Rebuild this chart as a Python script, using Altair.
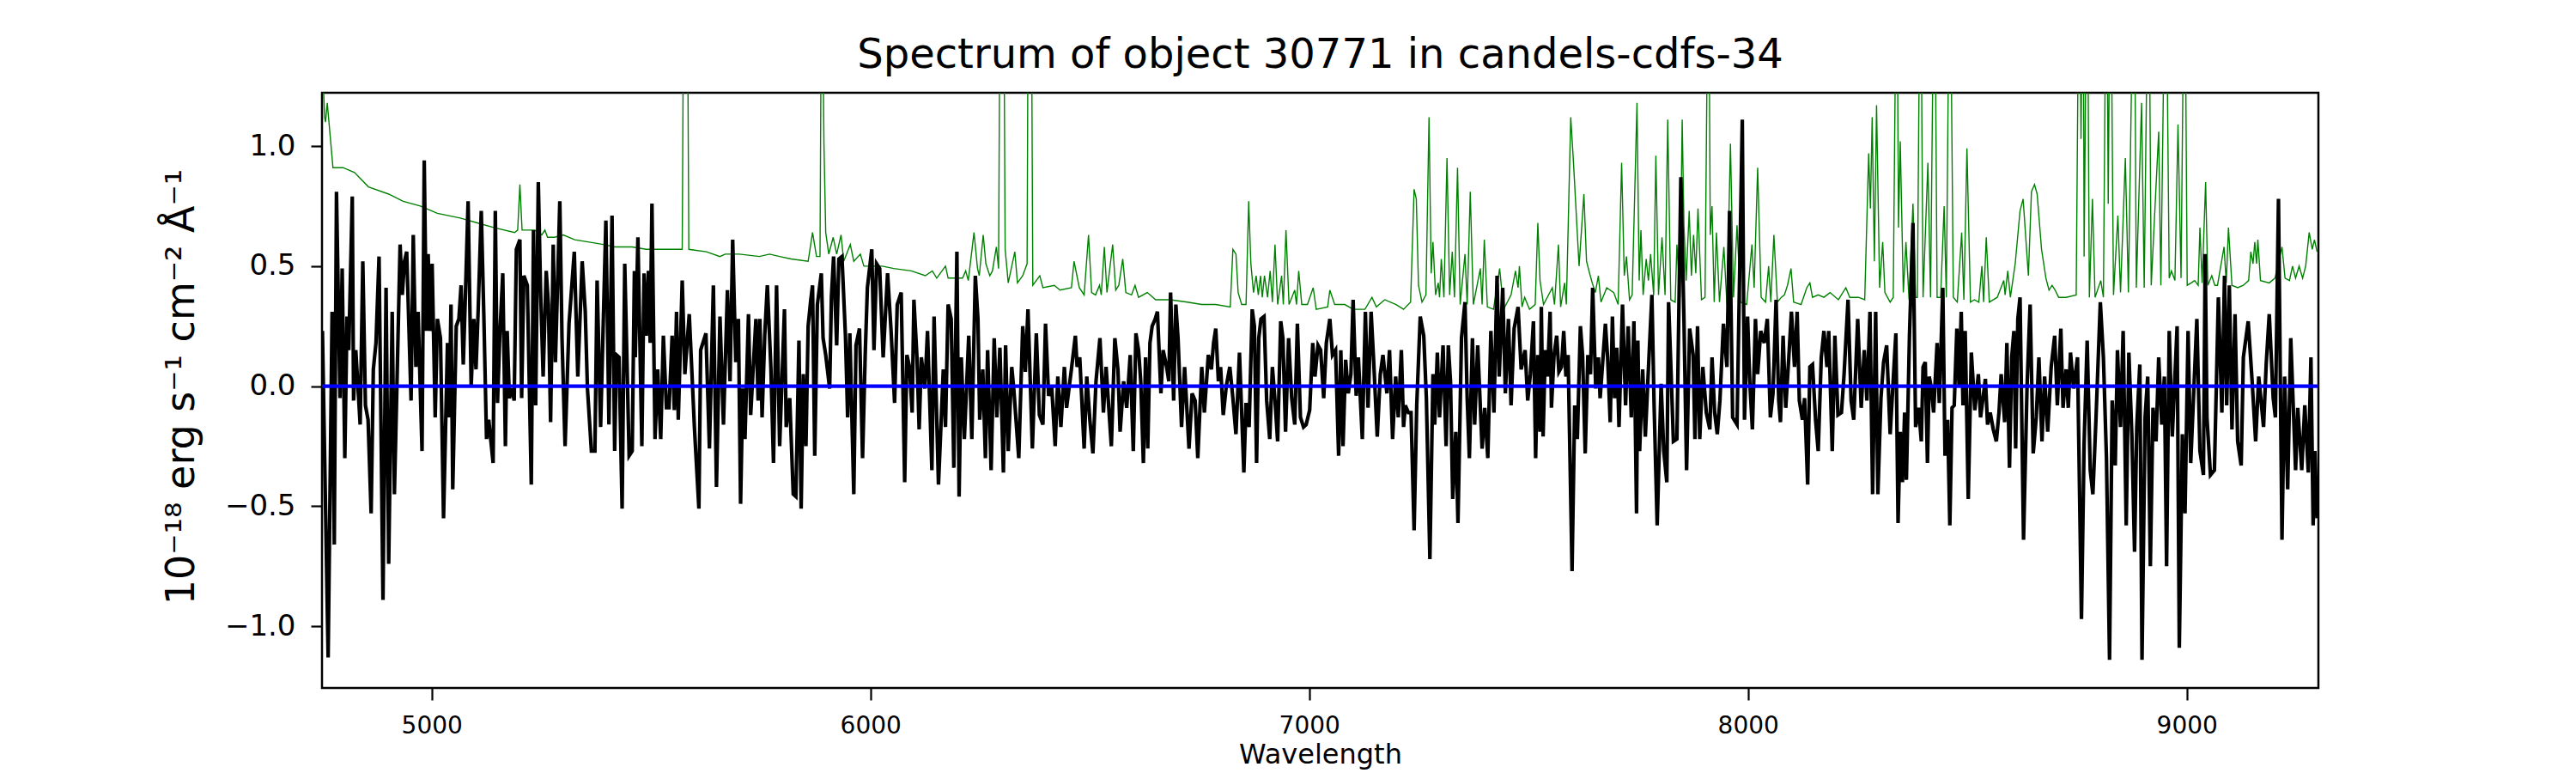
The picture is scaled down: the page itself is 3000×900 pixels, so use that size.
import altair as alt
import pandas as pd

# Observed spectrum (black), wavelength in Angstrom, flux in 1e-18 erg/s/cm2/A
black_wave = [
4751,4764,4773,4778,4783,4791,4796,4802,4807,4811,4819,4822,4827,4837,4843,4849,4855,4862,4867,4873,
4880,4889,4896,4902,4910,4915,4920,4928,4933,4938,4943,4953,4958,4964,4969,4978,4983,4988,4992,4996,
5001,5008,5013,5020,5027,5036,5040,5044,5048,5056,5062,5067,5072,5077,5083,5090,5096,5101,5106,5113,
5119,5125,5130,5140,5145,5150,5155,5162,5168,5172,5177,5183,5188,5193,5201,5205,5210,5218,5227,5232,
5237,5243,5248,5254,5261,5266,5271,5277,5282,5292,5297,5304,5313,5325,5333,5343,5350,5355,5364,5372,
5377,5385,5397,5404,5411,5417,5421,5427,5434,5440,5450,5457,5462,5464,5470,5479,5484,5489,5494,5498,
5502,5509,5515,5522,5528,5535,5541,5548,5553,5558,5562,5571,5577,5587,5599,5609,5613,5625,5633,5642,
5649,5657,
5665,5674,5680,5686,5693,5699,5704,5709,5714,5722,5727,5732,5739,5744,5748,5753,5759,5765,5773,5779,
5786,5793,5804,5808,5816,5824,5830,5837,5842,5847,5853,5858,5864,5868,5873,5879,5888,5892,5898,5907,
5911,5916,5923,5928,5935,5943,5948,5953,5962,5967,5975,5982,5988,5993,6003,6008,6014,6021,6029,6039,
6047,6055,6061,6070,6078,6083,6089,6095,6099,6106,6111,6116,6124,6130,6140,6145,6155,6166,6171,6177,
6184,6190,6197,6202,6207,6214,6224,6231,6239,6245,6249,6256,6262,6267,6275,6282,6288,6295,6303,6308,
6314,6322,6327,6338,6347,6353,6359,6369,6378,6385,6393,6399,6406,6413,6421,6427,6434,6442,6447,6458,
6467,6471,6477,6487,6493,6500,6507,6514,6523,6531,6537,6549,6557,6564,6569,
6577,6584,6592,6599,6605,6611,6616,6622,6627,6632,6637,6642,6649,6654,6662,6667,6675,6680,6684,6691,
6696,6701,6709,6716,6726,6733,6740,6746,6755,6761,6770,6777,6782,6787,6793,6798,6804,6811,6819,6826,
6833,6841,6851,6856,6863,6870,6875,6880,6885,6890,6897,6903,6910,6916,6922,6928,6935,6940,6946,6953,
6960,6967,6973,6980,6987,6993,7001,7008,7013,7020,7026,7033,7039,7047,7053,7060,7067,7072,7077,7083,
7089,7095,7100,7107,7112,7121,7128,7134,7141,7147,7155,7162,7168,7177,7183,7190,7197,7203,7210,7215,
7219,7226,7232,7239,7245,7253,7261,7267,7275,7282,7286,7292,7297,7305,7312,7317,7322,7327,7334,7339,
7347,7355,7360,7365,7372,7377,7384,7394,7400,7407,7414,7421,7428,7433,7441,7447,7454,7460,7467,
7476,7483,7492,7498,7504,7511,7516,7521,7526,7529,7533,7538,7543,7549,7552,7558,7564,7569,7575,7580,
7585,7590,7599,7605,7611,7618,7623,7629,7635,7641,7646,7653,7659,7663,7670,7675,7680,7686,7691,7696,
7701,7706,7714,7721,7727,7734,7740,7746,7749,7753,7760,7766,7773,7781,7786,7793,7802,7808,7815,7819,
7825,7830,7838,7847,7854,7860,7867,7875,7879,7885,7890,7897,7905,7913,7918,7924,7930,7936,7944,7952,
7958,7965,7975,7987,7992,7999,8004,8010,8017,8022,8029,8037,8044,8051,8057,8064,8070,8074,8080,8086,
8093,8099,8106,8112,8117,8124,8129,8136,8141,8147,8154,8160,8167,8173,8180,8184,8192,8198,8205,8213,
8219,8228,8235,8241,8250,8258,8265,8271,8278,8284,8291,8296,8303,8309,8316,8324,8337,8342,8347,8352,
8357,8361,8368,8376,8382,
8389,8395,8399,8404,8409,8413,8418,8423,8431,8436,8444,8449,8455,8460,8465,8470,8476,8481,8486,8490,
8495,8502,8509,8517,8525,8530,8541,8546,8552,8559,8566,8572,8577,8585,8590,8596,8601,8606,8610,8615,
8620,8628,8636,8643,8650,8657,8663,8670,8676,8683,8691,8699,8705,8713,8718,8725,8730,8735,8742,8751,
8760,8766,8773,8780,8786,8793,8803,8810,8817,8824,8830,8837,8842,8849,8855,8862,8868,8875,8881,8886,
8893,8898,8905,8911,8917,8923,8930,8936,8943,8949,8954,8960,8967,8978,8983,8990,8996,9003,9009,9016,
9023,9030,9038,9042,9046,9054,9063,9072,9080,9086,9091,9097,9103,9110,9116,9124,9129,9140,9149,9157,
9164,9175,9181,9188,9197,9202,9209,9217,9223,9230,9237,9248,9253,9262,9269,9277,9283,9288,9292,9297,
]
black_flux = [
0.23,-1.13,0.31,-0.66,0.81,-0.05,0.49,-0.30,0.29,0.15,0.79,-0.06,0.15,-0.16,0.52,-0.08,-0.14,-0.53,0.07,0.18,
0.54,-0.89,0.41,-0.74,0.31,-0.45,-0.06,0.59,0.38,0.52,0.56,-0.06,0.63,0.08,0.31,-0.27,0.94,0.23,0.55,0.23,
0.51,-0.13,0.28,0.20,-0.55,0.18,-0.13,0.34,-0.43,0.25,0.28,0.42,0.09,0.39,0.77,0.00,0.28,0.07,0.32,0.73,
0.28,-0.22,-0.14,-0.32,0.73,-0.07,0.20,0.47,-0.25,0.23,-0.05,-0.01,-0.06,0.57,0.61,-0.05,0.46,0.42,-0.41,0.65,
-0.08,0.85,0.41,0.04,0.48,0.34,-0.15,0.59,0.10,0.77,0.20,-0.25,0.26,0.56,0.04,0.52,0.31,-0.01,-0.27,-0.27,
0.44,-0.17,0.69,-0.16,0.71,-0.27,0.13,0.12,-0.51,0.51,-0.29,-0.27,0.48,0.12,0.62,-0.25,0.47,0.21,0.48,0.18,
0.76,-0.22,0.07,-0.22,0.21,-0.09,-0.09,0.21,-0.10,0.31,-0.14,0.44,0.05,0.30,-0.18,-0.51,0.15,0.22,-0.26,0.42,
-0.42,0.29,
-0.16,0.40,0.02,0.61,0.10,0.28,-0.49,-0.01,-0.22,0.30,-0.12,0.05,0.28,-0.06,0.28,-0.13,0.21,0.42,0.08,-0.32,
0.42,-0.25,0.32,-0.17,-0.05,-0.45,-0.46,0.19,-0.51,0.05,-0.25,0.25,0.36,0.42,-0.29,0.34,0.47,0.20,0.13,-0.01,
0.37,0.54,0.17,0.53,0.54,0.21,-0.13,0.22,-0.45,0.17,0.24,-0.30,0.13,0.41,0.57,0.15,0.51,0.49,0.12,0.47,
0.23,-0.07,0.34,0.39,-0.40,0.13,0.08,-0.11,0.36,0.12,-0.18,0.12,-0.01,0.23,-0.35,0.29,-0.41,0.07,-0.17,0.34,
0.28,-0.34,0.56,-0.46,0.12,-0.22,0.21,-0.22,0.46,0.28,-0.14,0.07,-0.30,0.15,-0.35,0.20,-0.13,0.16,-0.36,0.17,
-0.27,0.08,-0.02,-0.30,0.25,0.06,0.32,-0.26,0.22,-0.12,-0.16,0.26,-0.04,0.00,-0.25,0.04,-0.17,0.08,-0.09,0.07,
0.21,0.08,0.12,-0.26,0.04,-0.14,-0.28,0.02,0.20,-0.11,0.08,-0.25,0.20,0.07,-0.19,
0.02,-0.09,0.13,-0.27,0.22,0.15,0.02,-0.32,0.12,-0.26,0.18,0.25,0.28,0.31,-0.03,0.15,0.08,0.02,0.39,-0.06,
0.34,0.20,-0.17,0.08,-0.26,-0.03,-0.06,-0.30,0.08,-0.11,0.13,0.07,0.18,0.24,0.02,0.08,-0.12,0.00,0.08,-0.05,
-0.20,0.14,-0.36,-0.07,-0.17,0.32,0.25,-0.32,0.20,0.28,0.29,-0.06,-0.22,0.08,-0.06,-0.23,0.27,0.20,-0.19,0.20,
-0.05,-0.16,0.26,-0.13,-0.17,-0.16,-0.10,0.18,0.04,0.17,0.15,-0.05,0.18,0.28,0.13,0.15,-0.29,0.15,-0.25,0.11,
-0.03,0.05,0.36,-0.04,0.12,-0.22,0.31,-0.09,0.31,0.10,-0.21,0.05,0.13,-0.03,0.15,-0.22,0.04,-0.13,0.15,-0.17,
-0.08,-0.11,-0.11,-0.60,-0.08,0.29,0.21,-0.05,-0.72,0.05,-0.16,0.14,-0.13,0.17,-0.25,0.17,0.02,-0.47,-0.19,-0.57,
0.20,0.35,-0.05,-0.30,0.20,-0.16,0.17,-0.26,-0.09,-0.30,0.23,-0.11,0.46,0.04,0.41,-0.03,0.28,-0.08,0.24,
0.33,0.07,0.15,-0.06,0.05,0.27,-0.30,0.13,-0.19,0.33,-0.21,0.15,0.04,0.31,-0.09,0.13,0.21,0.06,0.08,0.23,
0.04,0.13,-0.77,-0.08,-0.22,0.25,0.13,-0.28,0.13,0.05,0.41,-0.01,0.12,-0.05,0.13,0.26,0.12,-0.15,0.29,-0.05,
0.16,-0.17,0.34,-0.08,0.25,-0.13,0.27,-0.53,0.19,-0.27,0.07,-0.21,0.07,0.38,-0.08,-0.58,0.01,-0.27,-0.40,0.35,
0.04,-0.23,-0.22,0.87,0.28,-0.35,0.24,0.13,-0.22,0.25,-0.22,0.08,-0.11,-0.18,0.12,-0.11,-0.20,-0.06,0.26,0.08,
0.73,-0.13,-0.16,1.11,-0.14,0.29,0.02,-0.18,0.28,0.05,0.23,0.18,0.28,-0.13,-0.03,0.36,-0.06,-0.15,0.21,-0.09,
0.12,0.31,0.08,0.31,-0.06,-0.14,-0.05,-0.41,0.08,0.09,-0.14,-0.27,0.12,0.23,0.08,0.23,-0.27,0.21,-0.12,-0.11,
0.05,0.36,-0.06,-0.14,0.28,-0.09,0.15,-0.06,0.31,-0.45,0.31,-0.45,-0.05,0.10,0.17,-0.20,0.22,-0.57,-0.19,-0.40,
-0.11,-0.39,0.21,0.68,-0.17,
-0.09,-0.23,0.08,0.10,-0.32,0.04,-0.01,-0.11,0.18,-0.07,0.41,-0.29,-0.14,-0.58,-0.09,-0.08,0.24,0.00,0.31,-0.08,
0.23,-0.47,0.14,-0.10,0.05,-0.13,0.03,-0.16,-0.11,-0.18,-0.23,-0.11,0.05,-0.15,0.18,-0.34,0.12,0.23,-0.26,0.28,
0.37,-0.64,0.00,0.34,-0.28,-0.13,0.12,-0.23,0.04,-0.19,0.08,0.21,-0.08,0.24,-0.09,0.07,-0.09,0.14,-0.01,0.12,
-0.97,-0.24,0.19,-0.35,-0.45,-0.14,0.35,0.12,-0.30,-1.14,-0.06,-0.33,0.15,-0.17,0.23,-0.58,0.14,-0.21,-0.69,-0.17,
0.09,-1.14,-0.13,0.04,-0.75,-0.09,-0.23,0.12,-0.16,0.04,-0.75,0.23,-0.21,0.25,-1.09,-0.20,-0.53,0.23,-0.32,-0.02,
0.28,-0.27,-0.37,0.55,-0.13,-0.37,-0.35,0.37,-0.11,0.46,-0.08,0.42,-0.18,0.30,-0.23,-0.33,0.12,0.27,0.02,-0.23,
0.04,-0.17,0.09,0.30,-0.05,-0.13,0.78,-0.64,0.04,-0.43,0.20,-0.35,-0.09,-0.35,-0.08,-0.36,0.12,-0.58,-0.27,-0.55,
]

# Noise / error spectrum (green)
green_wave = [
4751,4756,4758,4762,4775,4798,4824,4856,4902,4935,4974,5013,5065,5104,5143,5189,5196,5201,5206,5235,
5251,5258,5264,5280,5300,5326,5359,5391,5417,5457,5489,5541,5571,5575,5582,5586,5626,5657,
5669,5701,5747,5770,5793,5819,5858,5868,5877,5885,5889,5894,5898,5905,5915,5923,5933,5939,5954,5962,
5977,5985,6001,6027,6053,6093,6125,6141,6151,6171,6177,6197,6210,6217,6223,6236,6244,6248,6257,6263,
6272,6278,6287,6292,6296,6303,6307,6314,6329,6335,6347,6357,6360,6366,6370,6386,6393,6419,6432,6458,
6464,6476,6487,6497,6504,6513,6522,6526,6533,6539,6552,6559,
6566,6575,6582,6595,6603,6611,6631,6650,6683,6722,6755,6787,6820,6826,6833,6838,6846,6856,6862,6867,
6873,6879,6884,6889,6893,6898,6905,6911,6916,6922,6928,6937,6941,6947,6954,6967,6971,6976,6983,6996,
7009,7016,7042,7047,7058,7081,7100,7127,7143,7153,7172,7198,7215,7231,7239,7244,7249,7257,7266,7273,
7278,7282,7288,7294,7297,7301,7307,7314,7320,7326,7331,7338,7344,7355,7360,7367,7374,7390,7394,7399,
7406,7420,7434,7443,7460,7470,
7476,7479,7485,7491,7502,7515,7521,7526,7534,7554,7559,7568,7573,7582,7586,7596,7602,7615,7626,7632,
7639,7645,7652,7659,7665,7678,7694,7704,7712,7718,7723,7730,7736,7747,7752,7756,7761,7768,7773,7778,
7785,7790,7796,7804,7811,7817,7824,7834,7838,7845,7850,7854,7859,7866,7871,7876,7881,7886,7894,7902,
7910,7914,7918,7923,7928,7935,7945,7952,7960,7967,7975,7983,7997,8009,8014,8022,8030,8040,8047,8052,
8059,8067,8076,8083,8090,8098,8104,8121,8134,8141,8147,8160,8173,8187,8206,8223,8232,8252,8266,8275,
8279,8283,8288,8293,8300,8307,8312,8324,8331,8339,8343,8347,8354,8360,8367,8376,8382,
8386,8393,8399,8410,8416,8425,8431,8439,8447,8452,8460,8468,8477,8487,8492,8499,8507,8516,8526,8533,
8537,8543,8550,8568,8583,8586,8592,8598,8609,8620,8627,8639,8646,8653,8659,8669,8679,8686,8693,8700,
8708,8725,8748,8755,8759,8764,8766,8773,8778,8785,8791,8804,8810,8817,8821,8826,8833,8843,8849,8860,
8867,8880,8885,8897,8903,8913,8919,8936,8941,8952,8960,8965,8973,8980,8987,8995,9001,9010,9018,9026,
9030,9035,9043,9048,9057,9064,9070,9085,9090,9095,9103,9116,9129,9141,9146,9151,9155,9159,9162,9168,
9188,9201,9217,9224,9234,9241,9248,9256,9264,9271,9279,9286,9291,9297,
]
green_flux = [
1.35,1.12,1.10,1.18,0.91,0.91,0.89,0.83,0.80,0.77,0.75,0.72,0.70,0.68,0.66,0.64,0.65,0.84,0.65,0.65,
0.63,0.65,0.62,0.62,0.63,0.61,0.60,0.59,0.58,0.58,0.57,0.57,0.57,2.00,2.00,0.57,0.56,0.54,
0.55,0.55,0.54,0.55,0.54,0.53,0.52,0.64,0.54,0.54,2.00,1.01,0.64,0.55,0.62,0.55,0.63,0.52,0.59,0.52,
0.55,0.50,0.50,0.50,0.49,0.48,0.46,0.48,0.45,0.50,0.45,0.45,0.45,0.48,0.44,0.64,0.49,0.46,0.63,0.51,
0.46,0.48,0.58,0.49,2.00,2.00,0.57,0.43,0.56,0.43,0.46,0.51,2.00,2.00,0.42,0.46,0.41,0.42,0.40,0.41,
0.52,0.41,0.38,0.63,0.39,0.38,0.42,0.38,0.58,0.39,0.59,0.40,
0.42,0.53,0.39,0.38,0.42,0.37,0.39,0.36,0.36,0.35,0.34,0.34,0.33,0.57,0.55,0.39,0.34,0.34,0.77,0.51,
0.39,0.46,0.38,0.46,0.37,0.46,0.37,0.48,0.35,0.59,0.34,0.46,0.34,0.65,0.34,0.40,0.34,0.48,0.34,0.34,
0.41,0.32,0.33,0.40,0.34,0.34,0.32,0.32,0.37,0.33,0.36,0.34,0.32,0.35,0.82,0.78,0.42,0.35,0.38,1.12,
0.47,0.60,0.38,0.43,0.37,0.53,0.37,0.95,0.38,0.56,0.37,0.91,0.34,0.55,0.34,0.81,0.34,0.49,0.34,0.61,
0.33,0.32,0.49,0.32,0.38,0.48,
0.41,0.50,0.33,0.37,0.32,0.34,0.68,0.44,0.34,0.41,0.34,0.59,0.33,0.43,0.34,1.12,0.94,0.50,0.80,0.52,
0.47,0.43,0.39,0.46,0.35,0.41,0.39,0.34,0.93,0.46,0.54,0.36,0.38,1.18,0.44,0.65,0.38,0.53,0.44,0.55,
0.38,0.96,0.38,0.62,0.38,1.11,0.36,0.35,0.59,0.37,1.11,0.67,0.44,0.73,0.46,0.63,0.47,0.74,0.36,0.37,
2.00,0.63,0.75,0.35,0.64,0.35,0.58,0.34,1.01,0.37,0.67,0.35,0.34,0.59,0.41,0.91,0.37,0.35,0.50,0.35,
0.63,0.35,0.37,0.38,0.42,0.49,0.35,0.34,0.41,0.43,0.37,0.38,0.37,0.39,0.36,0.41,0.37,0.37,0.36,0.97,
0.74,1.12,0.52,1.17,0.41,0.60,0.39,0.35,0.37,2.00,0.66,1.02,0.39,0.60,0.36,0.76,0.37,
0.37,2.00,0.37,0.93,0.37,2.00,0.37,0.37,0.75,0.37,2.00,0.37,0.35,0.64,0.36,0.99,0.35,0.36,0.35,0.50,
0.35,0.62,0.35,0.37,0.44,0.38,0.48,0.37,0.51,0.73,0.78,0.46,0.81,0.84,0.80,0.57,0.45,0.40,0.42,0.40,
0.37,0.37,0.38,2.00,1.03,2.00,0.54,2.00,0.37,0.78,0.37,0.44,0.37,2.00,0.76,2.00,0.38,0.71,0.39,0.95,
0.39,2.00,0.41,1.18,0.41,2.00,0.42,1.06,0.42,2.00,0.45,0.48,0.44,1.09,0.45,2.00,0.42,0.43,0.44,0.42,
0.66,0.43,0.85,0.42,0.46,0.42,0.42,0.58,0.43,0.66,0.42,0.41,0.42,0.44,0.56,0.51,0.60,0.51,0.61,0.44,
0.43,0.45,0.58,0.45,0.44,0.50,0.45,0.50,0.45,0.50,0.64,0.57,0.61,0.56,
]

# Model (blue)
model_wave = [4750, 9300]
model_flux = [0.0, 0.0]

df_black = pd.DataFrame({"wave": black_wave, "flux": black_flux})
df_green = pd.DataFrame({"wave": green_wave, "flux": green_flux})
df_model = pd.DataFrame({"wave": model_wave, "flux": model_flux})

FONT = "DejaVu Sans"
xscale = alt.Scale(domain=[4750, 9300], nice=False, zero=False)
yscale = alt.Scale(domain=[-1.257, 1.222], nice=False, zero=False)

xaxis = alt.Axis(
    values=[5000, 6000, 7000, 8000, 9000], format="d", grid=False, domain=False,
    labelFont=FONT, labelFontSize=28, labelColor="black", labelPadding=16,
    tickSize=14, tickWidth=2.2, tickColor="black",
    title="Wavelength", titleFont=FONT, titleFontSize=32, titleFontWeight="normal",
    titleColor="black", titleBaseline="alphabetic", titleY=87,
)
yaxis = alt.Axis(
    values=[-1.0, -0.5, 0.0, 0.5, 1.0], format=".1f", grid=False, domain=False,
    labelFont=FONT, labelFontSize=34, labelColor="black", labelPadding=18,
    tickSize=13, tickWidth=2.2, tickColor="black",
    title="10⁻¹⁸ erg s⁻¹ cm⁻² Å⁻¹", titleFont=FONT, titleFontSize=46,
    titleFontWeight="normal", titleColor="black", titleBaseline="alphabetic",
    titleX=-150, titleY=342, titleAngle=270, titleAlign="center",
)

xenc = alt.X("wave:Q", scale=xscale, axis=xaxis)
yenc = alt.Y("flux:Q", scale=yscale, axis=yaxis)

green = alt.Chart(df_green).mark_line(color="#008000", strokeWidth=1.4, clip=True).encode(
    x=xenc, y=yenc, order="wave:Q")
black = alt.Chart(df_black).mark_line(color="black", strokeWidth=4.2, clip=True).encode(
    x=alt.X("wave:Q", scale=xscale), y=alt.Y("flux:Q", scale=yscale), order="wave:Q")
blue = alt.Chart(df_model).mark_line(color="#0000ff", strokeWidth=4.2, clip=True).encode(
    x=alt.X("wave:Q", scale=xscale), y=alt.Y("flux:Q", scale=yscale))

chart = alt.layer(green, black, blue).properties(
    width=2325, height=693,
    title=alt.TitleParams(
        "Spectrum of object 30771 in candels-cdfs-34", font=FONT, fontSize=48,
        fontWeight="normal", color="black", anchor="middle", baseline="alphabetic", offset=-19),
    autosize=alt.AutoSizeParams(type="none"),
    padding={"left": 367, "top": 100, "right": 292, "bottom": 100},
).configure_view(stroke="black", strokeWidth=2.5)

chart.save("out.html", embed_options={"renderer": "svg", "actions": False})
